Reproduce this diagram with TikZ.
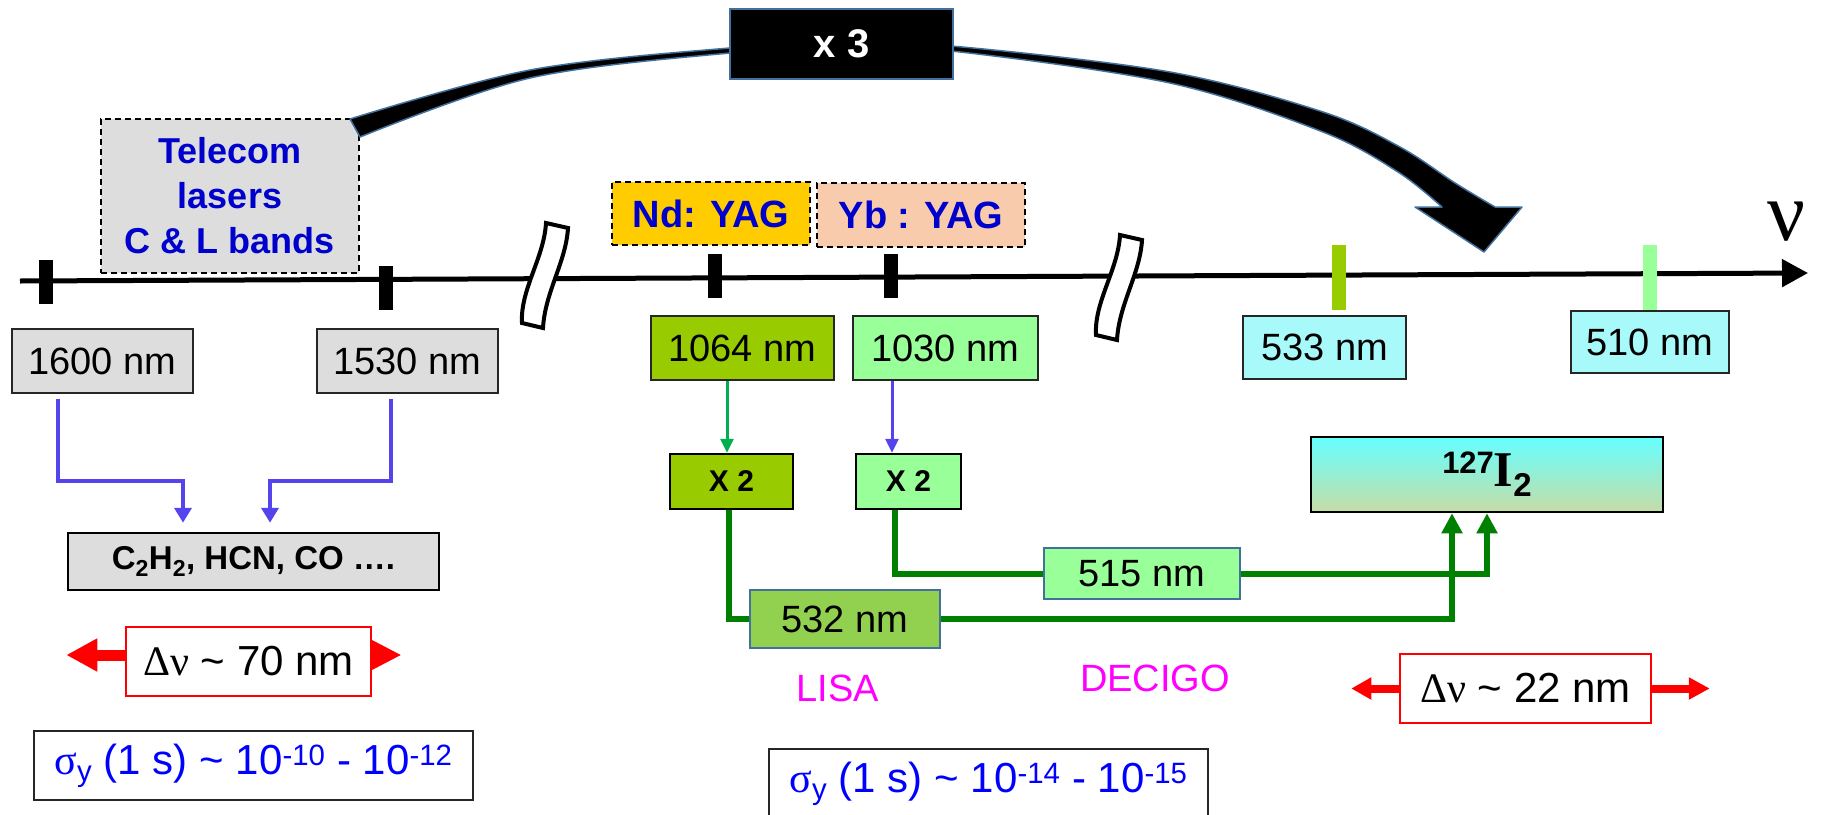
\documentclass[tikz,border=0pt]{standalone}
\usepackage{fontspec}
\setmainfont{Liberation Sans}
\newfontfamily\grk{Liberation Serif}
\usetikzlibrary{arrows.meta,shadings}
\definecolor{telegray}{HTML}{DDDDDD}
\definecolor{ndyel}{HTML}{FFCC00}
\definecolor{ybpeach}{HTML}{F8CBAD}
\definecolor{lime}{HTML}{99CC00}
\definecolor{mint}{HTML}{99FF99}
\definecolor{grnfive}{HTML}{92D050}
\definecolor{cyanbox}{HTML}{A8FAFA}
\definecolor{edgeblue}{HTML}{41719C}
\definecolor{txtblue}{HTML}{0000CC}
\definecolor{arrblue}{HTML}{5544EE}
\definecolor{dkgreen}{HTML}{008000}
\definecolor{brgreen}{HTML}{00B050}
\definecolor{sigblue}{HTML}{0000FF}
\definecolor{mag}{HTML}{FF00FF}
\definecolor{iodtop}{HTML}{66FFFF}
\definecolor{iodbot}{HTML}{C6DCA6}
\begin{document}
\begin{tikzpicture}[x=1pt,y=-1pt,
  dashbox/.style={draw=black, line width=1.5pt, dash pattern=on 6pt off 4pt, inner sep=0pt, align=center, text=txtblue, font=\fontsize{36}{45}\selectfont\bfseries},
  wl/.style={draw=black!85, line width=2pt, inner sep=0pt, font=\fontsize{38}{42}\selectfont, minimum height=64},
  wltwo/.style={draw=edgeblue, line width=2pt, inner sep=0pt, font=\fontsize{38}{42}\selectfont},
  xtwo/.style={draw=black, line width=2.5pt, inner sep=0pt, font=\fontsize{30}{34}\selectfont\bfseries, minimum height=55},
  dbox/.style={draw=red, line width=1.5pt, fill=white, inner sep=0pt, font=\fontsize{42}{46}\selectfont, minimum width=245, minimum height=69},
  sbox/.style={draw=black!85, line width=2pt, fill=white, inner sep=0pt, text=sigblue, font=\fontsize{42}{46}\selectfont},
  mlabel/.style={text=mag, inner sep=0pt, font=\fontsize{38}{42}\selectfont},
  bluecon/.style={draw=arrblue, line width=4.5pt, -{Triangle[length=15pt,width=17pt]}},
  gline/.style={draw=dkgreen, line width=6pt},
  gtip/.style={-{Triangle[length=20pt,width=20pt]}}
]
\useasboundingbox (0,0) rectangle (1822,814);

% frequency axis
\coordinate (axL) at (20,281);
\coordinate (axR) at (1808,273);
\draw[line width=5pt, -{Triangle[length=26pt,width=27pt]}] (axL) -- (axR);

% axis breaks
\draw[fill=white, line width=4pt] (546,223) -- (568,228) .. controls (566,262) and (545,292) .. (543,328) -- (522,323) .. controls (520,290) and (544,258) .. (546,223) -- cycle;
\begin{scope}[shift={(574,12)}]
\draw[fill=white, line width=4pt] (546,223) -- (568,228) .. controls (566,262) and (545,292) .. (543,328) -- (522,323) .. controls (520,290) and (544,258) .. (546,223) -- cycle;
\end{scope}

% ticks
\fill (39,260) rectangle (53,304);
\fill (379,266) rectangle (393,310);
\fill (708,254) rectangle (722,298);
\fill (884,254) rectangle (898,298);
\fill[lime] (1332,245) rectangle (1346,310);
\fill[mint] (1643,245) rectangle (1657,310);

\node[font=\grk\fontsize{84}{84}\selectfont, inner sep=0pt] (nu) at (1786,222) {ν};

% top boxes
\node[dashbox, fill=telegray, minimum width=258, minimum height=154] (tele) at (230,196) {Telecom\\lasers\\C \& L bands};
\node[dashbox, fill=ndyel, minimum width=198, minimum height=63, font=\fontsize{38}{42}\selectfont\bfseries] (nd) at (711,213.5) {Nd: YAG};
\node[dashbox, fill=ybpeach, minimum width=208, minimum height=64, font=\fontsize{38}{42}\selectfont\bfseries] (yb) at (921,215) {Yb : YAG};

% curved x3 arrow
\filldraw[fill=black, draw=edgeblue, line width=1.5pt, line join=round]
  plot[smooth, tension=0.55] coordinates {(350,119) (530,70) (730,48) (845,44) (951,46) (1170,72) (1323,112) (1400,147) (1455,183) (1495,207)}
  -- (1522,207) -- (1484,252) -- (1415,207) -- (1442,207)
  -- plot[smooth, tension=0.55] coordinates {(1442,207) (1398,172) (1323,132) (1170,83) (951,51) (845,48) (730,53) (530,78) (360,137)}
  -- cycle;
\node[fill=black, draw=edgeblue, line width=2pt, minimum width=223, minimum height=70, inner sep=0pt, text=white, font=\fontsize{40}{44}\selectfont\bfseries] (x3) at (841.5,44) {x 3};

% wavelength boxes
\node[wl, fill=telegray, minimum width=181] (n1600) at (102.5,361) {1600 nm};
\node[wl, fill=telegray, minimum width=181] (n1530) at (407.5,361) {1530 nm};
\node[wl, fill=lime, minimum width=183] (n1064) at (742.5,348) {1064 nm};
\node[wl, fill=mint, minimum width=185] (n1030) at (945.5,348) {1030 nm};
\node[wl, fill=cyanbox, minimum width=163, minimum height=63] (n533) at (1324.5,347.5) {533 nm};
\node[wl, fill=cyanbox, minimum width=158, minimum height=62] (n510) at (1650,342) {510 nm};

\node[xtwo, fill=lime, minimum width=123] (x2a) at (731.5,481.5) {X 2};
\node[xtwo, fill=mint, minimum width=105] (x2b) at (908.5,481.5) {X 2};

\node[draw=black, line width=2.5pt, fill=telegray, minimum width=371, minimum height=57, inner sep=0pt, font=\fontsize{33}{36}\selectfont\bfseries] (chem) at (253.5,561.5) {C\textsubscript{2}H\textsubscript{2}, HCN, CO ….};

\node[draw=black, line width=2.5pt, top color=iodtop, bottom color=iodbot, minimum width=352, minimum height=75, inner sep=0pt] (iod) at (1487,474.5) {\raisebox{13pt}{\fontsize{31}{31}\selectfont\bfseries 127}{\grk\bfseries\fontsize{50}{50}\selectfont I}\raisebox{-10pt}{\fontsize{33}{33}\selectfont\bfseries 2}};

\node[wltwo, fill=grnfive, minimum width=190, minimum height=58] (n532) at (845,619) {532 nm};
\node[wltwo, fill=mint, minimum width=196, minimum height=51] (n515) at (1142,573.5) {515 nm};

\node[mlabel] (lisa) at (838,688) {LISA};
\node[mlabel] (decigo) at (1155,678) {DECIGO};

% connectors
\draw[bluecon] ([xshift=-44.5pt,yshift=-5pt]n1600.south) -- ++(0,82) -| ([xshift=-70.5pt,yshift=9pt]chem.north);
\draw[bluecon] ([xshift=-16.5pt,yshift=-5pt]n1530.south) -- ++(0,82) -| ([xshift=16.5pt,yshift=9pt]chem.north);

\draw[draw=brgreen, line width=3pt, -{Triangle[length=14pt,width=13pt]}] ([xshift=-15.5pt]n1064.south) -- ([xshift=-15.5pt]n1064.south |- x2a.north);
\draw[draw=arrblue, line width=3pt, -{Triangle[length=14pt,width=13pt]}] ([xshift=-53.5pt]n1030.south) -- ([xshift=-53.5pt]n1030.south |- x2b.north);

\draw[gline] ([xshift=-2.5pt]x2a.south) |- (n532.west);
\draw[gline] ([xshift=-13.5pt]x2b.south) |- (n515.west);
\draw[gline, gtip] (n532.east) -| ([xshift=-35pt]iod.south);
\draw[gline, gtip] (n515.east) -| (iod.south);

% delta nu boxes
\node[dbox] (d70) at (248.5,661.5) {{\grk Δν} \textasciitilde{} 70 nm};
\draw[draw=red, line width=11pt, -{Triangle[length=31pt,width=31pt]}] ([yshift=6.5pt]d70.west) -- ++(-59,0);
\draw[draw=red, line width=1pt, -{Triangle[length=29pt,width=30pt]}] ([yshift=6.5pt]d70.east) -- ++(29,0);

\node[dbox, minimum width=251] (d22) at (1525.5,688.5) {{\grk Δν} \textasciitilde{} 22 nm};
\draw[draw=red, line width=8pt, -{Triangle[length=20pt,width=21pt]}] (d22.west) -- ++(-48,0);
\draw[draw=red, line width=8pt, -{Triangle[length=21pt,width=21pt]}] (d22.east) -- ++(58,0);

% stability boxes
\node[sbox, minimum width=439, minimum height=69] (s1) at (253.5,765.5) {{\grk σ}\textsubscript{y} (1 s) \textasciitilde{} 10\textsuperscript{-10} - 10\textsuperscript{-12}};
\node[sbox, minimum width=439, minimum height=70] (s2) at (988.5,784) {{\grk σ}\textsubscript{y} (1 s) \textasciitilde{} 10\textsuperscript{-14} - 10\textsuperscript{-15}};
\end{tikzpicture}
\end{document}
